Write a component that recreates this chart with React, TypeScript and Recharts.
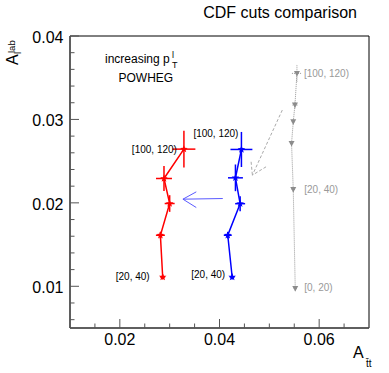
import React from "react";
import { ScatterChart, Scatter, XAxis, YAxis, ErrorBar, ReferenceLine, ReferenceArea } from "recharts";

// pT bins, lowest first
const redX = [0.0286, 0.02814, 0.03, 0.02886, 0.03286];
const redY = [0.01111, 0.01612, 0.01992, 0.02292, 0.02644];
const redEx = [0.0005, 0.0009, 0.001, 0.0016, 0.0023];
const redEy = [0.0003, 0.0004, 0.001, 0.0015, 0.0022];
const redLabels = ["[20, 40)", "", "", "", "[100, 120)"];

const blueX = [0.04254, 0.04166, 0.04414, 0.0432, 0.0444];
const blueY = [0.01111, 0.01612, 0.0199, 0.023, 0.0264];
const blueEx = [0.0005, 0.0008, 0.001, 0.0015, 0.0022];
const blueEy = [0.0003, 0.0004, 0.0009, 0.0016, 0.0021];
const blueLabels = ["[20, 40)", "", "", "", "[100, 120)"];

const greyX = [0.0552, 0.0548, 0.05446, 0.0548, 0.05514, 0.05554];
const greyY = [0.00972, 0.0216, 0.02712, 0.02972, 0.03172, 0.03552];
const greyEx = [0.0003, 0.0003, 0.0003, 0.0003, 0.0005, 0.001];
const greyEy = [0.0003, 0.0003, 0.0003, 0.0003, 0.0004, 0.001];
const greyLabels = ["[0, 20)", "[20, 40)", "", "", "", "[100, 120)"];

const xTicks = [0.015, 0.02, 0.025, 0.03, 0.035, 0.04, 0.045, 0.05, 0.055, 0.06, 0.065];
const xMajor = [0.02, 0.04, 0.06];
const yTicks = [
  0.006, 0.008, 0.01, 0.012, 0.014, 0.016, 0.018, 0.02, 0.022, 0.024, 0.026, 0.028, 0.03, 0.032, 0.034,
  0.036, 0.038, 0.04,
];
const yMajor = [0.01, 0.02, 0.03, 0.04];

// arrows: [start, end, head1, head2]
const blueArrow = [
  { x: 0.04066, y: 0.02052 },
  { x: 0.03266, y: 0.02044 },
  { x: 0.03534, y: 0.02132 },
  { x: 0.03534, y: 0.01944 },
];
const greyArrow = [
  { x: 0.0526, y: 0.03112 },
  { x: 0.0466, y: 0.02332 },
  { x: 0.04634, y: 0.02492 },
  { x: 0.04934, y: 0.02432 },
];

const rows = (xs: number[], ys: number[], ex: number[], ey: number[], labels: string[]) =>
  xs.map((x, i) => ({ x, y: ys[i], ex: ex[i], ey: ey[i], label: labels[i] }));

const redData = rows(redX, redY, redEx, redEy, redLabels);
const blueData = rows(blueX, blueY, blueEx, blueEy, blueLabels);
const greyData = rows(greyX, greyY, greyEx, greyEy, greyLabels);

const FONT = "'Liberation Sans', Arial, Helvetica, sans-serif";

// where each bin label sits relative to its point
const labelPos: Record<string, Record<string, { dx: number; dy: number; anchor: string }>> = {
  red: {
    "[20, 40)": { dx: -13, dy: -1, anchor: "end" },
    "[100, 120)": { dx: -7, dy: 0, anchor: "end" },
  },
  blue: {
    "[20, 40)": { dx: -7, dy: -3, anchor: "end" },
    "[100, 120)": { dx: -3, dy: -16, anchor: "end" },
  },
  grey: {
    "[0, 20)": { dx: 9, dy: -1, anchor: "start" },
    "[20, 40)": { dx: 11, dy: 0, anchor: "start" },
    "[100, 120)": { dx: 7, dy: 0, anchor: "start" },
  },
};

function starPoints(cx: number, cy: number, r: number) {
  const pts: string[] = [];
  for (let i = 0; i < 10; i++) {
    const rr = i % 2 === 0 ? r : r * 0.42;
    const a = -Math.PI / 2 + (i * Math.PI) / 5;
    pts.push(`${cx + rr * Math.cos(a)},${cy + rr * Math.sin(a)}`);
  }
  return pts.join(" ");
}

const makeShape = (series: string, color: string, labelColor: string) => (props: any) => {
  const { cx, cy, payload } = props;
  if (cx == null || cy == null) return <g />;
  const pos = payload.label ? labelPos[series][payload.label] : null;
  return (
    <g>
      {series === "grey" ? (
        <polygon points={`${cx - 3},${cy - 2.5} ${cx + 3},${cy - 2.5} ${cx},${cy + 3}`} fill={color} />
      ) : (
        <polygon points={starPoints(cx, cy, 4)} fill={color} />
      )}
      {pos && (
        <text
          x={cx + pos.dx}
          y={cy + pos.dy}
          textAnchor={pos.anchor as any}
          dominantBaseline="central"
          fontSize={10}
          fontFamily={FONT}
          fill={labelColor}
        >
          {payload.label}
        </text>
      )}
    </g>
  );
};

const XTick = (props: any) => {
  const { x, y, payload } = props;
  const major = xMajor.includes(payload.value);
  return (
    <g>
      <line x1={x} y1={y} x2={x} y2={y - (major ? 9 : 4.5)} stroke="#555" strokeWidth={1} />
      {major && (
        <text x={x} y={y + 16.5} textAnchor="middle" fontSize={16} fontFamily={FONT} fill="#000">
          {payload.value.toFixed(2)}
        </text>
      )}
    </g>
  );
};

const YTick = (props: any) => {
  const { x, y, payload } = props;
  const major = yMajor.includes(payload.value);
  return (
    <g>
      <line x1={x} y1={y} x2={x + (major ? 9 : 4.5)} y2={y} stroke="#555" strokeWidth={1} />
      {major && (
        <text x={x - 6.5} y={y + 7} textAnchor="end" fontSize={16} fontFamily={FONT} fill="#000">
          {payload.value.toFixed(2)}
        </text>
      )}
    </g>
  );
};

const arrowLines = (pts: { x: number; y: number }[], color: string, dash?: string, key?: string) =>
  [
    [pts[0], pts[1]],
    [pts[2], pts[1]],
    [pts[3], pts[1]],
  ].map((seg, i) => (
    <ReferenceLine
      key={`${key}-${i}`}
      segment={seg}
      stroke={color}
      strokeWidth={1}
      strokeDasharray={dash}
      ifOverflow="visible"
    />
  ));

export default function App() {
  return (
    <div style={{ position: "relative", width: 389, height: 373, background: "#fff" }}>
      <style>{`body{margin:0}`}</style>
      <ScatterChart width={389} height={373} margin={{ top: 36, right: 20, bottom: 15, left: 10 }}>
        <XAxis
          type="number"
          dataKey="x"
          domain={[0.01, 0.07]}
          ticks={xTicks}
          interval={0}
          tick={<XTick />}
          tickSize={0}
          tickMargin={0}
          tickLine={false}
          height={30}
          axisLine={{ stroke: "#555", strokeWidth: 1.5 }}
          allowDataOverflow
        />
        <YAxis
          type="number"
          dataKey="y"
          domain={[0.005, 0.04]}
          ticks={yTicks}
          interval={0}
          tick={<YTick />}
          tickSize={0}
          tickMargin={0}
          tickLine={false}
          width={60}
          axisLine={{ stroke: "#555", strokeWidth: 1.5 }}
          allowDataOverflow
        />
        <ReferenceArea x1={0.01} x2={0.07} y1={0.005} y2={0.04} fill="none" stroke="#000" strokeWidth={1} />
        {arrowLines(blueArrow, "#5a5aff", undefined, "b")}
        {arrowLines(greyArrow, "#aaa", "3 2", "g")}
        <Scatter
          data={greyData}
          line={{ stroke: "#999", strokeWidth: 1, strokeDasharray: "1 1" }}
          shape={makeShape("grey", "#8c8c8c", "#999")}
          isAnimationActive={false}
        >
          <ErrorBar dataKey="ex" direction="x" width={0} stroke="#999" strokeWidth={1} strokeDasharray="1 1" />
          <ErrorBar dataKey="ey" direction="y" width={0} stroke="#999" strokeWidth={1} strokeDasharray="1 1" />
        </Scatter>
        <Scatter
          data={redData}
          line={{ stroke: "#ff0000", strokeWidth: 1.5 }}
          shape={makeShape("red", "#ff0000", "#000")}
          isAnimationActive={false}
        >
          <ErrorBar dataKey="ex" direction="x" width={0} stroke="#ff0000" strokeWidth={1.5} />
          <ErrorBar dataKey="ey" direction="y" width={0} stroke="#ff0000" strokeWidth={1.5} />
        </Scatter>
        <Scatter
          data={blueData}
          line={{ stroke: "#0000ff", strokeWidth: 1.5 }}
          shape={makeShape("blue", "#0000ff", "#000")}
          isAnimationActive={false}
        >
          <ErrorBar dataKey="ex" direction="x" width={0} stroke="#0000ff" strokeWidth={1.5} />
          <ErrorBar dataKey="ey" direction="y" width={0} stroke="#0000ff" strokeWidth={1.5} />
        </Scatter>
      </ScatterChart>
      <svg
        width={389}
        height={373}
        style={{ position: "absolute", left: 0, top: 0, pointerEvents: "none" }}
        fontFamily={FONT}
      >
        <text x={357} y={18} textAnchor="end" fontSize={16} fill="#000">
          CDF cuts comparison
        </text>
        <text x={105} y={63} fontSize={12} fill="#000">
          increasing p
        </text>
        <text x={172} y={58} fontSize={9} fill="#000">
          l
        </text>
        <text x={172} y={68} fontSize={9} fill="#000">
          T
        </text>
        <text x={118.5} y={82} fontSize={12} fill="#000">
          POWHEG
        </text>
        <g transform="translate(17.5,65) rotate(-90)">
          <text x={0} y={0} fontSize={16} fill="#000">
            A
          </text>
          <text x={12} y={-3} fontSize={9.5} fill="#000">
            lab
          </text>
          <text x={11} y={3} fontSize={9.5} fill="#000">
            l
          </text>
        </g>
        <text x={353} y={358} fontSize={16} fill="#000">
          A
        </text>
        <text x={366} y={367} fontSize={10} fill="#000">
          {"t\u0304t"}
        </text>
      </svg>
    </div>
  );
}
